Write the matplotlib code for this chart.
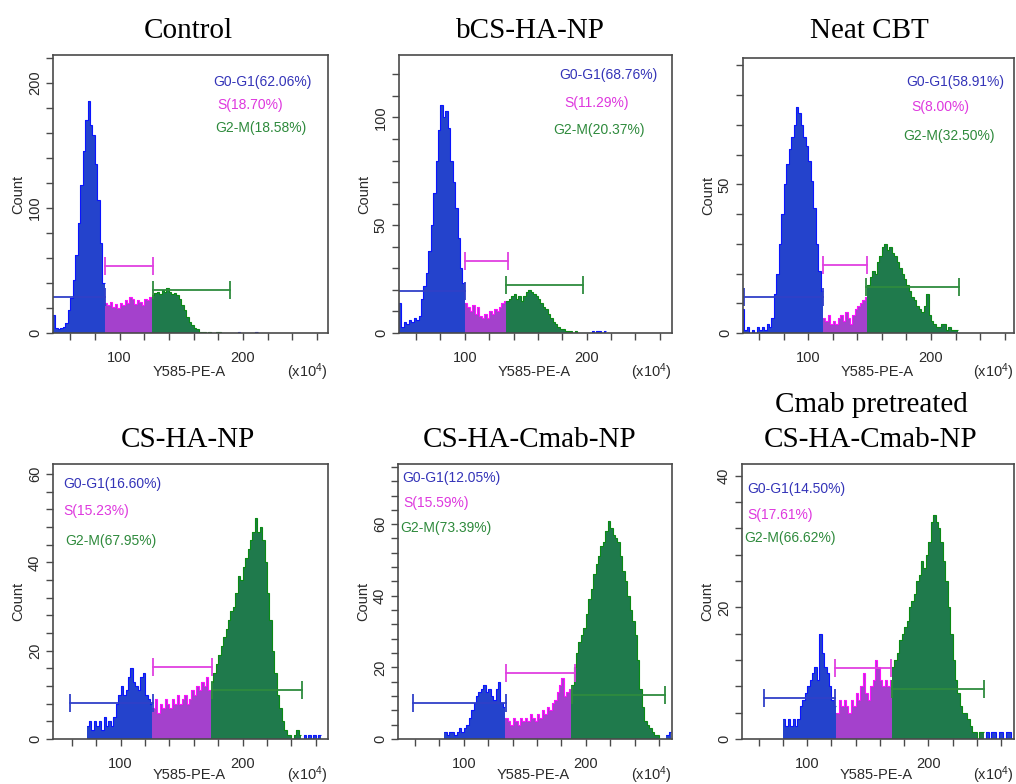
import numpy as np
import matplotlib
matplotlib.use('Agg')
import matplotlib.pyplot as plt

plt.rcParams['font.family'] = ['Liberation Sans', 'DejaVu Sans']
plt.rcParams['mathtext.fontset'] = 'custom'
plt.rcParams['mathtext.rm'] = 'Liberation Sans'
plt.rcParams['mathtext.it'] = 'Liberation Sans'

# --- cell cycle histograms (Y585-PE-A, x10^4), 2-unit bins ---
BIN_W = 2

titles = ['Control', 'bCS-HA-NP', 'Neat CBT',
          'CS-HA-NP', 'CS-HA-Cmab-NP', ['Cmab pretreated', 'CS-HA-Cmab-NP']]

pct_g0g1 = ['62.06', '68.76', '58.91', '16.60', '12.05', '14.50']
pct_s = ['18.70', '11.29', '8.00', '15.23', '15.59', '17.61']
pct_g2m = ['18.58', '20.37', '32.50', '67.95', '73.39', '66.62']

hist_start = [46, 46, 46, 72, 84, 80]

counts_control = [
    14, 4, 3, 4, 5, 8, 18, 28, 42, 62, 88, 118, 145, 170, 185, 166, 158, 135, 106, 72, 40,
    24, 22, 25, 21, 23, 20, 24, 22, 26, 24, 29, 27, 23, 26, 25, 22, 27, 26, 29,
    30, 32, 33, 31, 34, 33, 36, 33, 31, 32, 30, 27, 22, 18, 13, 9, 6, 4, 3, 1, 1, 1, 0, 1,
    0, 0, 1, 1, 0, 0, 0, 0, 0, 0, 0, 1, 0, 0, 0, 0, 0, 0, 1]

counts_bcs = [
    14, 3, 5, 4, 6, 5, 7, 6, 8, 16, 22, 28, 38, 50, 65, 80, 94, 106, 100, 103, 95, 80, 70, 58,
    44, 30, 23,
    14, 12, 10, 13, 9, 12, 8, 7, 9, 7, 10, 9, 11, 10, 12, 14, 15,
    15, 16, 17, 18, 16, 17, 15, 17, 19, 20, 19, 18, 17, 16, 14, 12, 11, 9, 7, 5, 4, 3, 2, 2,
    1, 1, 1, 0, 1, 0, 0, 0, 0, 0, 0, 1, 0, 1, 1, 0, 1]

counts_cbt = [
    8, 1, 2, 0, 1, 0, 2, 1, 2, 1, 3, 2, 5, 13, 20, 30, 40, 50, 57, 62, 66, 70, 76, 74, 70, 66,
    63, 58, 51, 42, 30, 21, 14,
    5, 4, 6, 3, 4, 3, 5, 6, 4, 7, 5, 3, 6, 8, 9, 10, 11, 12,
    16, 19, 21, 20, 24, 26, 29, 30, 28, 29, 27, 26, 24, 22, 20, 18, 16, 14, 12, 11, 9, 8, 7,
    9, 13, 6, 4, 3, 2, 2, 3, 3, 1, 2, 1, 1, 1]

counts_cs = [
    3, 4, 2, 4, 3, 4, 2, 5, 3, 4, 3, 5, 8, 10, 12, 10, 11, 14, 16, 13, 12, 11, 14, 15, 10, 9, 8,
    7, 9, 6, 8, 7, 9, 8, 7, 9, 8, 10, 8, 9, 10, 8, 9, 11, 10, 12, 11, 13, 12, 14, 11,
    13, 15, 17, 19, 21, 23, 25, 27, 29, 30, 33, 37, 36, 39, 41, 43, 45, 47, 50, 47, 48, 45,
    40, 33, 27, 20, 15, 10, 7, 4, 2, 1, 1, 0, 1, 2, 1, 0, 1, 0, 1, 0, 1, 0, 1]

counts_cmab = [
    2, 1, 2, 2, 1, 2, 3, 2, 3, 4, 6, 8, 10, 12, 13, 14, 15, 13, 14, 12, 11, 14, 16, 10, 9,
    6, 5, 4, 6, 5, 4, 6, 5, 6, 5, 7, 6, 5, 7, 6, 8, 7, 9, 8, 10, 11, 13, 15, 17, 12, 13, 14,
    15, 20, 24, 27, 29, 31, 35, 39, 42, 46, 49, 51, 54, 55, 58, 61, 59, 57, 56, 55, 51, 47,
    44, 40, 36, 33, 29, 22, 14, 9, 5, 4, 3, 2, 1, 1, 0, 0, 0, 1, 2]

counts_pre = [
    3, 2, 3, 2, 3, 2, 3, 5, 6, 7, 8, 9, 10, 11, 9, 16, 13, 11, 10, 8, 6, 5,
    4, 6, 5, 6, 5, 4, 6, 5, 7, 6, 8, 10, 7, 6, 8, 9, 12, 11, 9, 8, 9, 8, 9,
    11, 12, 13, 15, 16, 17, 18, 20, 21, 22, 24, 25, 27, 26, 28, 30, 33, 34, 33, 32, 30, 27,
    24, 20, 16, 12, 9, 7, 5, 4, 4, 3, 2, 1, 1, 0, 1, 1, 0, 1, 0, 1, 1, 0, 1, 1, 0, 1, 1, 0]

all_counts = [counts_control, counts_bcs, counts_cbt, counts_cs, counts_cmab, counts_pre]

# gate ranges (x0, x1) and the height of each gate marker
gate_g0g1 = [(44, 88.2), (44, 100), (47.4, 112), (58.5, 126.8), (58.4, 134.3), (64.4, 123.3)]
gate_s = [(88.2, 127), (100, 135.6), (112, 148), (126.8, 174.6), (134.2, 191.2), (123.3, 169.3)]
gate_g2m = [(127, 189.5), (133.7, 197.3), (147.3, 222.4), (174.6, 248.4), (189, 265.2), (169.9, 245.8)]
level_g0g1 = [28.5, 19.3, 12.0, 8.1, 10.0, 6.2]
level_s = [53.5, 33.3, 22.8, 16.4, 18.3, 10.8]
level_g2m = [34.2, 22.4, 15.5, 11.0, 12.3, 7.6]

y_max = [222, 129, 92.5, 62.3, 76.8, 41.8]
y_major = [[0, 100, 200], [0, 50, 100], [0, 50], [0, 20, 40, 60], [0, 20, 40, 60], [0, 20, 40]]
y_minor_step = [20, 10, 10, 4, 4, 4]
x_lims = [(46, 269), (46, 270), (46.8, 267.6), (44.5, 270), (46, 270.7), (46.2, 270.7)]

# --- styling ---
BLUE_FILL, BLUE_LINE, BLUE_TXT = '#2443cc', '#0a14ff', '#3434b8'
MAG_FILL, MAG_LINE, MAG_TXT = '#a441cc', '#ff10ff', '#de38de'
GRN_FILL, GRN_LINE, GRN_TXT = '#1f7a4c', '#0a8a14', '#2e8a3c'
SPINE = '#4a4a4a'
TXT = '#2a2a2a'

W, H = 1016, 784
boxes = [(53, 55, 328, 333), (399, 55, 672, 333), (743, 58, 1014, 333),
         (53, 464, 328, 739), (398, 464, 672, 739), (742, 464, 1014, 739)]
title_x = [188, 530, 869, 188, 530, 871]
title_base = [38, 38, 38, 447, 447, 447]
xlabel_drop = [39, 39, 39, 36, 36, 36]
label_xy = [[(213, 82), (217, 105), (215, 128)],
            [(559, 75), (564, 103), (553, 130)],
            [(906, 82), (911, 107), (903, 136)],
            [(63, 484), (63, 511), (65, 541)],
            [(402, 478), (403, 503), (400, 528)],
            [(747, 489), (747, 515), (744, 538)]]


def draw_hist(ax, start, counts, s_lo, g_lo, g_hi):
    counts = np.asarray(counts, dtype=float)
    edges = start + BIN_W * np.arange(len(counts) + 1)
    centers = edges[:-1] + BIN_W / 2
    cuts = [0] + [int(np.searchsorted(centers, b)) for b in (s_lo, g_lo, g_hi)] + [len(counts)]
    colors = [(BLUE_FILL, BLUE_LINE), (MAG_FILL, MAG_LINE),
              (GRN_FILL, GRN_LINE), (BLUE_FILL, BLUE_LINE)]
    for (i0, i1), (fill, line) in zip(zip(cuts[:-1], cuts[1:]), colors):
        if i1 <= i0:
            continue
        ax.stairs(counts[i0:i1], edges[i0:i1 + 1], fill=True, color=fill, lw=0)
        ax.stairs(counts[i0:i1], edges[i0:i1 + 1], color=line, lw=0.8, baseline=None)


def draw_gate(ax, x0, x1, y, color):
    ax.plot([x0, x1], [y, y], color=color, lw=1.3)
    ax.plot([x0, x1], [y, y], ls='none', marker='|', ms=13, mew=1.3, color=color)


fig = plt.figure(figsize=(W / 100, H / 100), dpi=100)

for i in range(6):
    l, t, r, b = boxes[i]
    ax = fig.add_axes([l / W, 1 - b / H, (r - l) / W, (b - t) / H])
    draw_hist(ax, hist_start[i], all_counts[i], gate_s[i][0], gate_g2m[i][0], gate_g2m[i][1])
    draw_gate(ax, *gate_g0g1[i], level_g0g1[i], '#3040c8')
    draw_gate(ax, *gate_s[i], level_s[i], '#e040e0')
    draw_gate(ax, *gate_g2m[i], level_g2m[i], '#2e8b3e')

    ax.set_xlim(*x_lims[i])
    ax.set_ylim(0, y_max[i])
    ax.set_xticks([100, 200])
    ax.set_xticks(np.arange(60, 270, 20), minor=True)
    ax.set_yticks(y_major[i])
    ax.set_yticks(np.arange(0, y_max[i], y_minor_step[i]), minor=True)
    ax.tick_params(which='both', direction='out', length=5, width=1.0, color=SPINE,
                   labelsize=10.5, labelcolor=TXT)
    ax.tick_params(axis='x', pad=8)
    ax.tick_params(axis='y', pad=3)
    for lbl in ax.get_yticklabels():
        lbl.set_rotation(90)
        lbl.set_va('center')
    for sp in ax.spines.values():
        sp.set_color(SPINE)
        sp.set_linewidth(1.2)

    wpx, hpx = r - l, b - t
    ax.set_ylabel('Count', fontsize=10.5, color=TXT)
    ax.yaxis.set_label_coords(-28 / wpx, 0.5)
    ax.text(0.495, -xlabel_drop[i] / hpx, 'Y585-PE-A', transform=ax.transAxes,
            ha='center', va='center', fontsize=10.5, color=TXT)
    ax.text(1.0, -xlabel_drop[i] / hpx, r'(x10$^4$)', transform=ax.transAxes,
            ha='right', va='center', fontsize=10.5, color=TXT)

    texts = ['G0-G1(%s%%)' % pct_g0g1[i], 'S(%s%%)' % pct_s[i], 'G2-M(%s%%)' % pct_g2m[i]]
    for (x, y), s, c in zip(label_xy[i], texts, [BLUE_TXT, MAG_TXT, GRN_TXT]):
        fig.text(x / W, 1 - y / H, s, ha='left', va='center', fontsize=10, color=c)

    title = titles[i]
    if isinstance(title, list):
        fig.text(title_x[i] / W, 1 - 412 / H, title[0], ha='center', va='baseline',
                 fontsize=21, family='Liberation Serif')
        title = title[1]
    fig.text(title_x[i] / W, 1 - title_base[i] / H, title, ha='center', va='baseline',
             fontsize=21, family='Liberation Serif')

fig.savefig('out.png', dpi=100)
